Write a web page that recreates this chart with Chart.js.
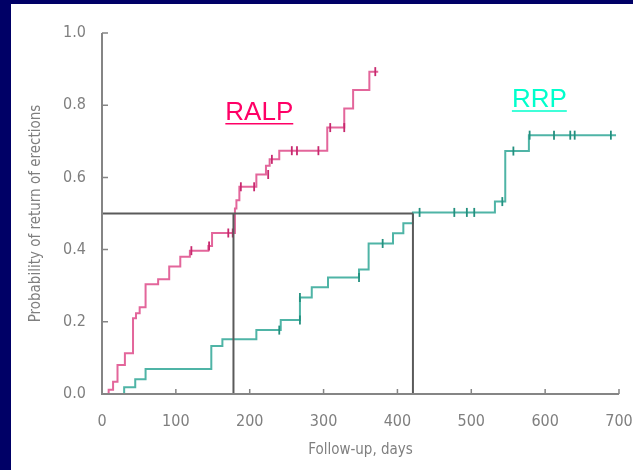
<!DOCTYPE html>
<html>
<head>
<meta charset="utf-8">
<script src="https://cdn.jsdelivr.net/npm/chart.js@4/dist/chart.umd.min.js"></script>
<style>
html,body{margin:0;padding:0;background:#000066;}
#wrap{position:absolute;left:0;top:0;width:633px;height:470px;}
</style>
</head>
<body>
<div id="wrap"><canvas id="c" width="633" height="470"></canvas></div>
<script>
// ---- Data (Kaplan-Meier style step curves) ----
const ralpTimes = [9, 9, 15, 21, 31, 42, 46, 51, 59, 76, 91, 106, 119, 144, 149, 180, 182, 186, 209, 222, 227, 240, 305, 328, 340, 362, 374];
const ralpProb  = [0, 0.012, 0.034, 0.08, 0.113, 0.21, 0.224, 0.24, 0.304, 0.318, 0.353, 0.38, 0.397, 0.41, 0.446, 0.514, 0.537, 0.574, 0.608, 0.632, 0.65, 0.674, 0.738, 0.791, 0.842, 0.893, 0.893];
const ralpCensorTimes = [121, 145, 171, 177, 188, 206, 225, 230, 257, 264, 293, 309, 328, 370];
const ralpCensorProb  = [0.397, 0.41, 0.446, 0.446, 0.574, 0.574, 0.608, 0.65, 0.674, 0.674, 0.674, 0.738, 0.738, 0.893];

const rrpTimes = [30, 30, 45, 59, 148, 163, 209, 242, 268, 284, 306, 348, 361, 394, 408, 421, 532, 546, 578, 696];
const rrpProb  = [0, 0.019, 0.041, 0.069, 0.133, 0.152, 0.177, 0.205, 0.267, 0.296, 0.323, 0.345, 0.417, 0.445, 0.473, 0.503, 0.533, 0.673, 0.717, 0.717];
const rrpCensorTimes = [240, 268, 268, 348, 380, 430, 477, 494, 504, 542, 557, 579, 612, 634, 640, 689];
const rrpCensorProb  = [0.177, 0.205, 0.267, 0.323, 0.417, 0.503, 0.503, 0.503, 0.503, 0.533, 0.673, 0.717, 0.717, 0.717, 0.717, 0.717];

const medianLevel = 0.5;
const ralpMedian = 178;
const rrpMedian = 421;

const xTicks = [0, 100, 200, 300, 400, 500, 600, 700];
const yTicks = [0.0, 0.2, 0.4, 0.6, 0.8, 1.0];

const seriesLabels = ["RALP", "RRP"];
const xTitle = "Follow-up, days";
const yTitle = "Probability of return of erections";

// ---- Styles ----
const ralpLine = "#e3669b", ralpMark = "#c8286e";
const rrpLine = "#4fb4a6", rrpMark = "#23907f";
const refColor = "#5a5a5a";
const axisColor = "#858585";
const textColor = "#7f7f7f";
const tickFont = {family: "'DejaVu Sans Condensed', 'Liberation Sans Narrow', sans-serif", size: 16};
const titleFont = {family: "'DejaVu Sans Condensed', 'Liberation Sans Narrow', sans-serif", size: 15};

const pts = (xs, ys) => xs.map((x, i) => ({x: x, y: ys[i]}));

const bgPlugin = {
  id: 'bg',
  beforeDraw(chart) {
    const ctx = chart.ctx;
    ctx.save();
    ctx.fillStyle = '#000066';
    ctx.fillRect(0, 0, chart.width, chart.height);
    ctx.fillStyle = '#ffffff';
    ctx.fillRect(11, 4, chart.width - 11, chart.height - 4);
    ctx.restore();
  }
};

const axesPlugin = {
  id: 'axesInward',
  afterDatasetsDraw(chart) {
    const ctx = chart.ctx;
    const xs = chart.scales.x, ys = chart.scales.y;
    const a = chart.chartArea;
    ctx.save();
    ctx.strokeStyle = axisColor;
    ctx.lineWidth = 2;
    ctx.beginPath();
    ctx.moveTo(a.left, a.top);
    ctx.lineTo(a.left, a.bottom);
    ctx.lineTo(a.right, a.bottom);
    ctx.stroke();
    ctx.lineWidth = 1.5;
    ctx.beginPath();
    xTicks.forEach(v => {
      const p = xs.getPixelForValue(v);
      ctx.moveTo(p, a.bottom);
      ctx.lineTo(p, a.bottom - 5);
    });
    yTicks.forEach(v => {
      const p = ys.getPixelForValue(v);
      ctx.moveTo(a.left, p);
      ctx.lineTo(a.left + 6, p);
    });
    ctx.stroke();
    // series name labels
    const labs = [
      {t: seriesLabels[0], x: 167, y: 0.76, c: '#ff0066'},
      {t: seriesLabels[1], x: 555, y: 0.795, c: '#00ffcc'}
    ];
    ctx.font = "26px 'Liberation Sans', Arial, sans-serif";
    ctx.textBaseline = 'alphabetic';
    ctx.textAlign = 'left';
    labs.forEach(l => {
      const px = xs.getPixelForValue(l.x), py = ys.getPixelForValue(l.y);
      ctx.fillStyle = l.c;
      ctx.fillText(l.t, px, py);
      const w = ctx.measureText(l.t).width;
      ctx.strokeStyle = l.c;
      ctx.lineWidth = 1.5;
      ctx.beginPath();
      ctx.moveTo(px, py + 4);
      ctx.lineTo(px + w, py + 4);
      ctx.stroke();
    });
    ctx.restore();
  }
};

new Chart(document.getElementById('c'), {
  type: 'scatter',
  data: {
    datasets: [
      {label: 'ref-h', data: [{x: 0, y: medianLevel}, {x: rrpMedian, y: medianLevel}], showLine: true, borderColor: refColor, borderWidth: 2, pointRadius: 0, order: 0},
      {label: 'ref-ralp', data: [{x: ralpMedian, y: 0}, {x: ralpMedian, y: medianLevel}], showLine: true, borderColor: refColor, borderWidth: 2, pointRadius: 0, order: 0},
      {label: 'ref-rrp', data: [{x: rrpMedian, y: 0}, {x: rrpMedian, y: medianLevel}], showLine: true, borderColor: refColor, borderWidth: 2, pointRadius: 0, order: 0},
      {label: seriesLabels[0], data: pts(ralpTimes, ralpProb), showLine: true, stepped: 'before', borderColor: ralpLine, borderWidth: 2, pointRadius: 0, order: 2},
      {label: seriesLabels[1], data: pts(rrpTimes, rrpProb), showLine: true, stepped: 'before', borderColor: rrpLine, borderWidth: 2, pointRadius: 0, order: 2},
      {label: seriesLabels[0] + ' censored', data: pts(ralpCensorTimes, ralpCensorProb), showLine: false, pointStyle: 'line', rotation: 90, radius: 4.5, borderColor: ralpMark, borderWidth: 1.8, order: 1},
      {label: seriesLabels[1] + ' censored', data: pts(rrpCensorTimes, rrpCensorProb), showLine: false, pointStyle: 'line', rotation: 90, radius: 4.5, borderColor: rrpMark, borderWidth: 1.8, order: 1}
    ]
  },
  options: {
    responsive: false,
    animation: false,
    events: [],
    layout: {padding: {top: 33, right: 14, left: 0, bottom: 0}},
    plugins: {legend: {display: false}, tooltip: {enabled: false}},
    scales: {
      x: {
        type: 'linear', min: 0, max: 700,
        afterBuildTicks(s) { s.ticks = xTicks.map(v => ({value: v})); },
        ticks: {color: textColor, font: tickFont, padding: 10, maxRotation: 0, autoSkip: false, callback: v => String(v)},
        grid: {display: false},
        border: {display: false},
        title: {display: true, text: xTitle, color: textColor, font: titleFont, padding: {top: 0, bottom: 11}},
        afterFit(s) { s.height = 76; s.paddingLeft = 0; s.paddingRight = 0; }
      },
      y: {
        type: 'linear', min: 0, max: 1,
        afterBuildTicks(s) { s.ticks = yTicks.map(v => ({value: v})); },
        ticks: {color: textColor, font: tickFont, padding: 8, callback: v => Number(v).toFixed(1)},
        grid: {display: false},
        border: {display: false},
        title: {display: true, text: yTitle, color: textColor, font: titleFont, padding: {top: 27, bottom: 0}},
        afterFit(s) { s.width = 102; s.paddingTop = 0; s.paddingBottom = 0; }
      }
    }
  },
  plugins: [bgPlugin, axesPlugin]
});
</script>
</body>
</html>
